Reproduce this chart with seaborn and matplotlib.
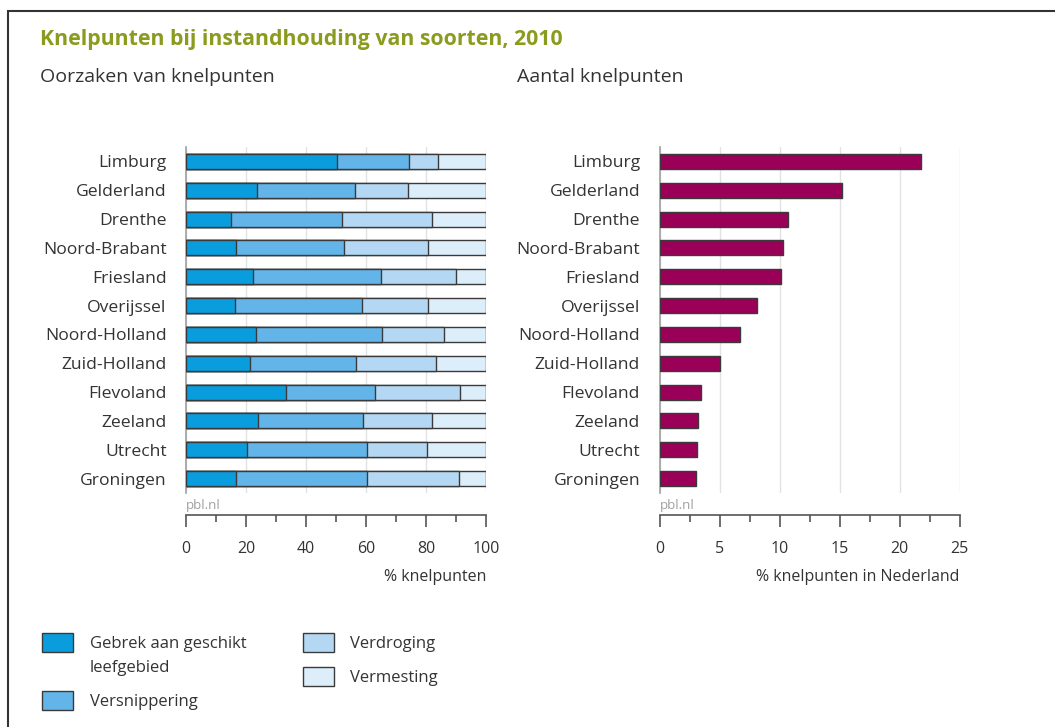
import pandas as pd
import matplotlib.pyplot as plt
import seaborn as sns
from matplotlib.patches import Patch, Rectangle
from matplotlib.ticker import MultipleLocator

# data (top to bottom)
provinces = ["Limburg", "Gelderland", "Drenthe", "Noord-Brabant", "Friesland", "Overijssel",
             "Noord-Holland", "Zuid-Holland", "Flevoland", "Zeeland", "Utrecht", "Groningen"]
gebrek = [50.2, 23.6, 15.0, 16.7, 22.4, 16.3, 23.3, 21.3, 33.3, 23.9, 20.4, 16.7]
versnippering = [24.2, 32.7, 37.1, 36.0, 42.5, 42.3, 42.1, 35.4, 29.7, 35.2, 39.8, 43.7]
verdroging = [9.7, 17.6, 30.0, 28.1, 25.0, 22.2, 20.6, 26.6, 28.3, 23.0, 20.0, 30.7]
vermesting = [15.9, 26.1, 17.9, 19.2, 10.1, 19.2, 14.0, 16.7, 8.7, 17.9, 19.8, 8.9]
aandeel = [21.8, 15.2, 10.7, 10.3, 10.1, 8.1, 6.7, 5.0, 3.45, 3.2, 3.1, 3.05]

causes = ["Gebrek aan geschikt", "Versnippering", "Verdroging", "Vermesting"]
cause_colors = ["#0a9ddd", "#63b5e9", "#b4d8f3", "#dbeefa"]
bar_purple = "#9b0058"
edge = "#3a3a3a"

sns.set_theme(style="white")
plt.rcParams['font.family'] = ['Open Sans', 'DejaVu Sans']
plt.rcParams['text.color'] = '#333333'

df = pd.DataFrame({"provincie": provinces, "c1": gebrek, "c2": versnippering,
                   "c3": verdroging, "c4": vermesting, "aandeel": aandeel})
df["s1"] = df["c1"]
df["s2"] = df["s1"] + df["c2"]
df["s3"] = df["s2"] + df["c3"]
df["s4"] = df["s3"] + df["c4"]

W, H = 1055, 727
fig = plt.figure(figsize=(W / 100, H / 100), dpi=100)
ax1 = fig.add_axes([186 / W, 1 - 493 / H, 300 / W, 346 / H])
ax2 = fig.add_axes([659.5 / W, 1 - 493 / H, 300 / W, 346 / H])

# stacked bars: draw cumulative totals from the back to the front
for col, c in zip(["s4", "s3", "s2", "s1"], cause_colors[::-1]):
    sns.barplot(data=df, x=col, y="provincie", ax=ax1, color=c, width=0.52,
                edgecolor=edge, linewidth=1.0, saturation=1, orient="h", zorder=3)
sns.barplot(data=df, x="aandeel", y="provincie", ax=ax2, color=bar_purple, width=0.52,
            edgecolor=edge, linewidth=1.0, saturation=1, orient="h", zorder=3)

for ax, xmax, major, minor, xlabel in [(ax1, 100, 20, 10, "% knelpunten"),
                                       (ax2, 25, 5, 2.5, "% knelpunten in Nederland")]:
    ax.set_xlim(0, xmax)
    ax.set_ylim(len(provinces) - 0.5, -0.5)
    ax.xaxis.set_major_locator(MultipleLocator(major))
    ax.xaxis.set_minor_locator(MultipleLocator(minor))
    ax.grid(axis="x", which="major", color="#e2e2e2", linewidth=1.0, zorder=0)
    ax.set_axisbelow(True)
    for s in ["top", "right"]:
        ax.spines[s].set_visible(False)
    ax.spines["left"].set_color("#a0a0a0")
    ax.spines["left"].set_linewidth(1.2)
    ax.spines["bottom"].set_position(("outward", 16))
    ax.spines["bottom"].set_color("#555555")
    ax.spines["bottom"].set_linewidth(1.2)
    ax.tick_params(axis="x", which="major", direction="out", length=8.5, width=1.2,
                   color="#555555", labelsize=11.5, labelcolor="#333333", pad=10, bottom=True)
    ax.tick_params(axis="x", which="minor", direction="out", length=5, width=1.2,
                   color="#555555", bottom=True)
    ax.tick_params(axis="y", length=0, labelsize=12.6, labelcolor="#333333", pad=14)
    ax.set_ylabel("")
    ax.set_xlabel(xlabel, loc="right", fontsize=11.5, color="#333333", labelpad=9)
    ax.annotate("pbl.nl", xy=(0, 0), xycoords="axes fraction", xytext=(0, -14),
                textcoords="offset points", fontsize=9.5, color="#a0a0a0", va="bottom")

fig.text(40 / W, 1 - 40 / H, "Knelpunten bij instandhouding van soorten, 2010",
         fontsize=15.3, fontweight="bold", color="#8b9b1e", va="center")
fig.text(40 / W, 1 - 77 / H, "Oorzaken van knelpunten", fontsize=14, va="center")
fig.text(517 / W, 1 - 77 / H, "Aantal knelpunten", fontsize=14, va="center")

# outer frame
fig.patches.append(Rectangle((8 / W, -0.1), 2, 1.1 - 11 / H, transform=fig.transFigure,
                             fill=False, edgecolor="#333333", linewidth=1.5))

handles = [Patch(facecolor=c, edgecolor=edge, linewidth=1.0) for c in cause_colors]
leg_kw = dict(loc="upper left", frameon=False, fontsize=12, handlelength=1.85,
              handleheight=1.42, handletextpad=1.0)
fig.legend(handles[:2], causes[:2], bbox_to_anchor=(27 / W, 1 - 618 / H),
           labelspacing=2.3, **leg_kw)
fig.legend(handles[2:], causes[2:], bbox_to_anchor=(288 / W, 1 - 618 / H),
           labelspacing=0.86, **leg_kw)
fig.text(90 / W, 1 - 668 / H, "leefgebied", fontsize=12, va="center")

fig.savefig("out.png", dpi=100)
